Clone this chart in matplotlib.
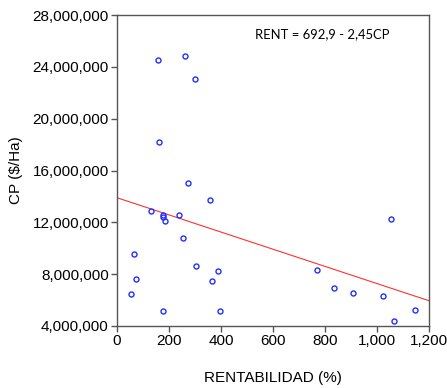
import matplotlib
matplotlib.use("Agg")
import matplotlib.pyplot as plt
import numpy as np
from matplotlib.ticker import FuncFormatter

# Data
rentabilidad = [156, 262, 300, 163, 272, 356, 132, 176, 178, 183, 238, 254,
                64, 72, 54, 176, 305, 387, 365, 396, 771, 836, 909, 1024,
                1055, 1065, 1147]
cp_millions = [24.52, 24.86, 23.10, 18.21, 15.04, 13.72, 12.90, 12.59, 12.41,
               12.13, 12.59, 10.77, 9.59, 7.62, 6.46, 5.15, 8.64, 8.26, 7.51,
               5.15, 8.31, 6.90, 6.51, 6.28, 12.26, 4.38, 5.23]
cp = [v * 1e6 for v in cp_millions]

# Fitted line parameters
fit_intercept = 13.9e6
fit_slope = -6625.0
line_x = [0, 1200]

x_ticks = [0, 200, 400, 600, 800, 1000, 1200]
y_ticks = [4e6, 8e6, 12e6, 16e6, 20e6, 24e6, 28e6]
annotation = "RENT = 692,9 - 2,45CP"

plt.rcParams['font.family'] = ['Liberation Sans', 'DejaVu Sans']

fig = plt.figure(figsize=(4.47, 3.88), dpi=100)
ax = fig.add_axes([0.2617, 0.1598, 0.9597 - 0.2617, 0.9613 - 0.1598])

lx = np.array(line_x, dtype=float)
ax.plot(lx, fit_intercept + fit_slope * lx, color='#ff3030', lw=0.8, zorder=2)
ax.plot(rentabilidad, cp, linestyle='none', marker='o', markersize=3.6,
        markerfacecolor='none', markeredgecolor='#1f2fff', markeredgewidth=1.0,
        zorder=3)

ax.set_xlim(0, 1200)
ax.set_ylim(4e6, 28e6)
ax.set_xticks(x_ticks)
ax.set_yticks(y_ticks)
ax.xaxis.set_major_formatter(FuncFormatter(lambda v, p: f"{int(v):,}"))
ax.yaxis.set_major_formatter(FuncFormatter(lambda v, p: f"{int(v):,}"))
ax.tick_params(axis='both', direction='out', length=4, width=1, color='#555555',
               labelsize=11, top=False, right=False, pad=2)
for s in ax.spines.values():
    s.set_color('#555555')
    s.set_linewidth(1.0)

ax.set_xlabel("RENTABILIDAD (%)", fontsize=11, labelpad=16)
ax.set_ylabel("CP ($/Ha)", fontsize=11, labelpad=7)

ax.text(0.657, 0.939, annotation, transform=ax.transAxes, ha='center', va='center',
        fontsize=9.4, family=['Lato', 'DejaVu Sans'])

fig.savefig("out.png", dpi=100)
